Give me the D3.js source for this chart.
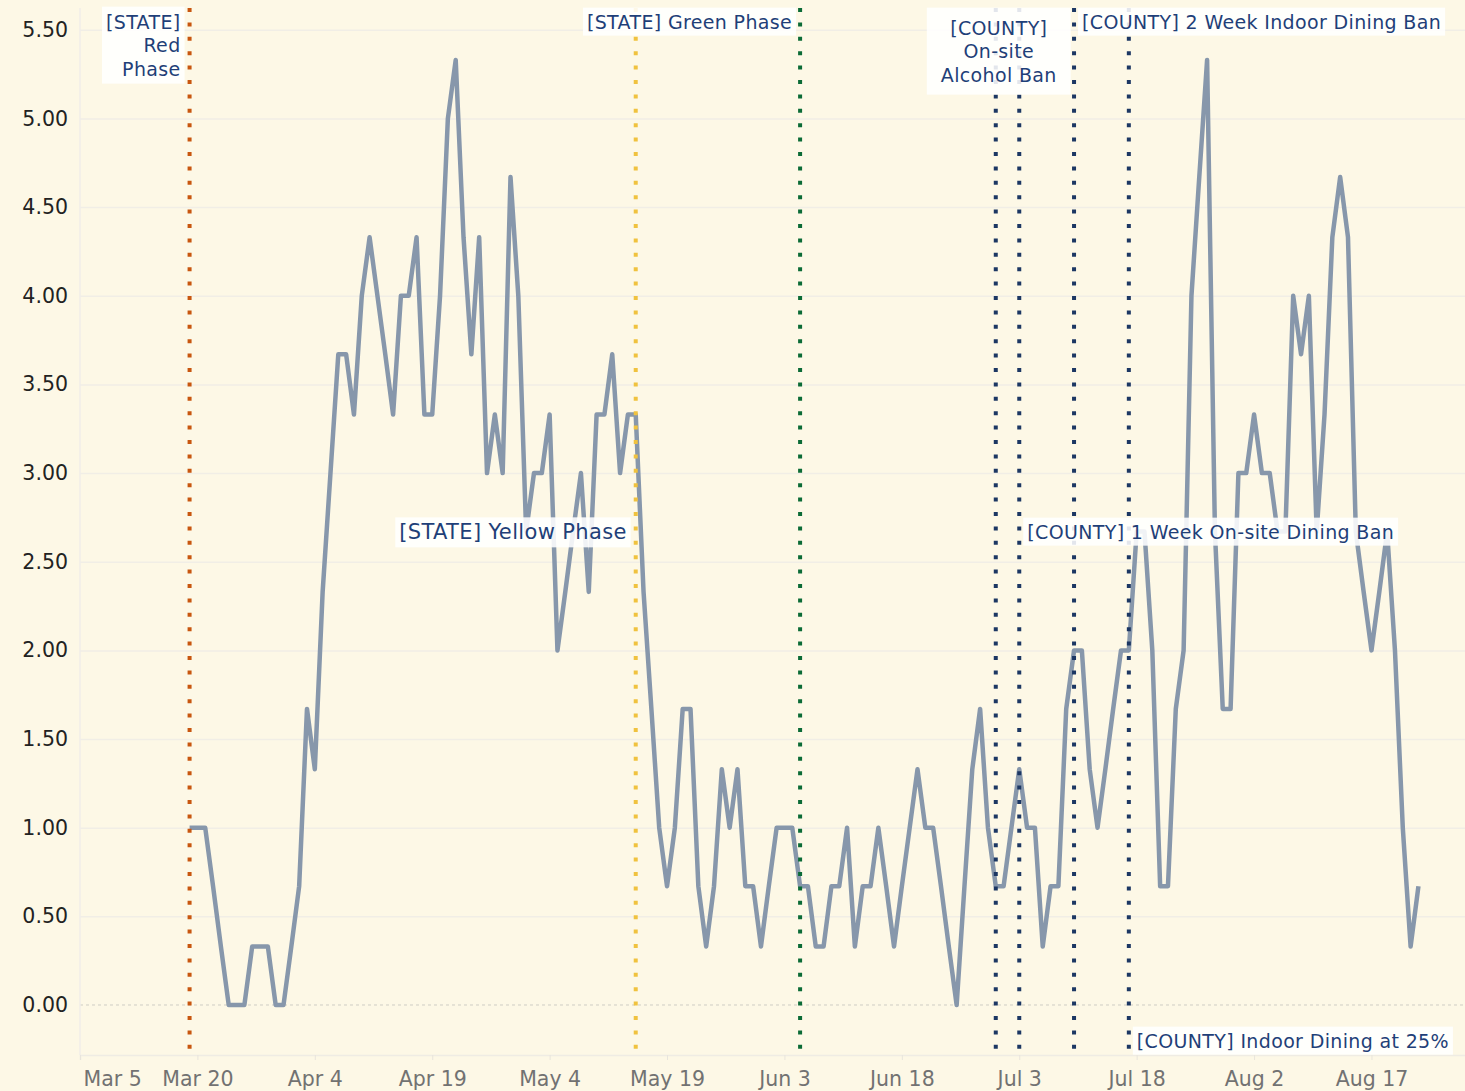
<!DOCTYPE html>
<html>
<head>
<meta charset="utf-8">
<script src="https://cdn.jsdelivr.net/npm/d3@7"></script>
<style>
  html, body { margin: 0; padding: 0; background: #fdf8e6; }
  svg { display: block; font-family: "DejaVu Sans", Verdana, sans-serif; }
</style>
</head>
<body>
<div id="chart"></div>
<script>
// daily series, starts on the red phase day
const startDate = "2020-03-19";
const avgCases = [
  1.00, 1.00, 1.00, 0.67, 0.33, 0.00, 0.00, 0.00, 0.33, 0.33,
  0.33, 0.00, 0.00, 0.33, 0.67, 1.67, 1.33, 2.33, 3.00, 3.67,
  3.67, 3.33, 4.00, 4.33, 4.00, 3.67, 3.33, 4.00, 4.00, 4.33,
  3.33, 3.33, 4.00, 5.00, 5.33, 4.33, 3.67, 4.33, 3.00, 3.33,
  3.00, 4.67, 4.00, 2.67, 3.00, 3.00, 3.33, 2.00, 2.33, 2.67,
  3.00, 2.33, 3.33, 3.33, 3.67, 3.00, 3.33, 3.33, 2.33, 1.67,
  1.00, 0.67, 1.00, 1.67, 1.67, 0.67, 0.33, 0.67, 1.33, 1.00,
  1.33, 0.67, 0.67, 0.33, 0.67, 1.00, 1.00, 1.00, 0.67, 0.67,
  0.33, 0.33, 0.67, 0.67, 1.00, 0.33, 0.67, 0.67, 1.00, 0.67,
  0.33, 0.67, 1.00, 1.33, 1.00, 1.00, 0.67, 0.33, 0.00, 0.67,
  1.33, 1.67, 1.00, 0.67, 0.67, 1.00, 1.33, 1.00, 1.00, 0.33,
  0.67, 0.67, 1.67, 2.00, 2.00, 1.33, 1.00, 1.33, 1.67, 2.00,
  2.00, 2.67, 2.67, 2.00, 0.67, 0.67, 1.67, 2.00, 4.00, 4.67,
  5.33, 2.67, 1.67, 1.67, 3.00, 3.00, 3.33, 3.00, 3.00, 2.67,
  2.67, 4.00, 3.67, 4.00, 2.67, 3.33, 4.33, 4.67, 4.33, 2.67,
  2.33, 2.00, 2.33, 2.67, 2.00, 1.00, 0.33, 0.67
];

const xTicks = ["2020-03-05", "2020-03-20", "2020-04-04", "2020-04-19", "2020-05-04", "2020-05-19",
  "2020-06-03", "2020-06-18", "2020-07-03", "2020-07-18", "2020-08-02", "2020-08-17"];
const yTicks = [0, 0.5, 1, 1.5, 2, 2.5, 3, 3.5, 4, 4.5, 5, 5.5];

const eventDates = ["2020-03-19", "2020-05-15", "2020-06-05", "2020-06-30", "2020-07-03", "2020-07-10", "2020-07-17"];
const eventColors = ["#c8560f", "#f0c23e", "#0b6b36", "#1c3763", "#1c3763", "#1c3763", "#1c3763"];
const eventLabels = [
  ["[STATE]", "Red", "Phase"],
  ["[STATE] Yellow Phase"],
  ["[STATE] Green Phase"],
  ["[COUNTY]", "On-site", "Alcohol Ban"],
  ["[COUNTY] 1 Week On-site Dining Ban"],
  ["[COUNTY] 2 Week Indoor Dining Ban"],
  ["[COUNTY] Indoor Dining at 25%"]
];

const w = 1465, h = 1091;
const m = { l: 80, r: 1465, t: 8, b: 1055 };
const parse = d3.utcParse("%Y-%m-%d");

const svg = d3.select("#chart").append("svg").attr("width", w).attr("height", h);
svg.append("rect").attr("width", w).attr("height", h).attr("fill", "#fdf8e6");

const x = d3.scaleUtc().domain([parse("2020-03-05"), parse("2020-08-29")]).range([m.l, 1465.4]);
const y = d3.scaleLinear().domain([-0.282, 5.623]).range([m.b, m.t]);

const data = avgCases.map((v, i) => ({ date: d3.utcDay.offset(parse(startDate), i), value: v }));

// grid
const grid = svg.append("g")
  .attr("transform", `translate(${m.l},0)`)
  .call(d3.axisLeft(y).tickValues(yTicks.filter(d => d > 0)).tickSize(-(m.r - m.l)).tickFormat(""));
grid.select(".domain").remove();
grid.selectAll("line").attr("stroke", "#f1eee6").attr("stroke-width", 1.5);

svg.append("line")
  .attr("x1", m.l).attr("x2", m.r).attr("y1", y(0)).attr("y2", y(0))
  .attr("stroke", "#cfcdc4").attr("stroke-width", 1).attr("stroke-dasharray", "3,3");

// left axis line
svg.append("line")
  .attr("x1", m.l).attr("x2", m.l).attr("y1", m.t).attr("y2", m.b)
  .attr("stroke", "#f0eee8").attr("stroke-width", 1.5);

const yAxis = svg.append("g")
  .attr("transform", `translate(${m.l},0)`)
  .call(d3.axisLeft(y).tickValues(yTicks).tickFormat(d3.format(".2f")).tickSize(0).tickPadding(12));
yAxis.select(".domain").remove();
yAxis.selectAll("text").attr("font-size", 20.5).attr("font-family", "DejaVu Sans, Verdana, sans-serif").attr("fill", "#222");

const xAxis = svg.append("g")
  .attr("transform", `translate(0,${m.b})`)
  .call(d3.axisBottom(x).tickValues(xTicks.map(parse)).tickFormat(d3.utcFormat("%b %-d")).tickSize(5).tickPadding(11));
xAxis.select(".domain").attr("stroke", "#efece4").attr("stroke-width", 1.5);
xAxis.selectAll("line").attr("stroke", "#e8e5dc");
xAxis.selectAll("text").attr("font-size", 20.5).attr("font-family", "DejaVu Sans, Verdana, sans-serif").attr("fill", "#727272");
xAxis.select(".tick text").attr("text-anchor", "start").attr("x", 3);

// series
svg.append("path")
  .datum(data)
  .attr("fill", "none")
  .attr("stroke", "#8797ab")
  .attr("stroke-width", 4.5)
  .attr("stroke-linejoin", "round")
  .attr("d", d3.line().x(d => x(d.date)).y(d => y(d.value)));

// event lines
svg.append("g").selectAll("line")
  .data(eventDates)
  .join("line")
  .attr("x1", d => x(parse(d))).attr("x2", d => x(parse(d)))
  .attr("y1", m.t).attr("y2", m.b - 4)
  .attr("stroke", (d, i) => eventColors[i])
  .attr("stroke-width", 4)
  .attr("stroke-dasharray", "4,10.4");

// annotation placement: anchor, dx from the line, y of the first line centre, padding, size
const notes = [
  { anchor: "end", dx: -9, y: 22, px: 4, py: 4, size: 19 },
  { anchor: "end", dx: -9, y: 532, px: 4, py: 3, size: 21 },
  { anchor: "end", dx: -8, y: 22, px: 4, py: 3, size: 19 },
  { anchor: "middle", dx: 3, y: 28, px: 14, py: 9, size: 19 },
  { anchor: "start", dx: 8, y: 532, px: 4, py: 3, size: 19 },
  { anchor: "start", dx: 8, y: 22, px: 4, py: 3, size: 19 },
  { anchor: "start", dx: 8, y: 1041, px: 4, py: 3, size: 19 }
];

eventLabels.forEach((lines, i) => {
  const n = notes[i];
  const g = svg.append("g");
  const tx = x(parse(eventDates[i])) + n.dx;
  const t = g.append("text")
    .attr("font-size", n.size)
    .attr("letter-spacing", 0.35)
    .attr("fill", "#1f3f78")
    .attr("text-anchor", n.anchor);
  lines.forEach((s, k) => {
    t.append("tspan").attr("x", tx).attr("y", n.y + k * 23.5).attr("dy", "0.35em").text(s);
  });
  const bb = t.node().getBBox();
  g.insert("rect", "text")
    .attr("x", bb.x - n.px).attr("y", bb.y - n.py)
    .attr("width", bb.width + 2 * n.px).attr("height", bb.height + 2 * n.py)
    .attr("fill", "#fff").attr("fill-opacity", 0.88);
});
</script>
</body>
</html>
